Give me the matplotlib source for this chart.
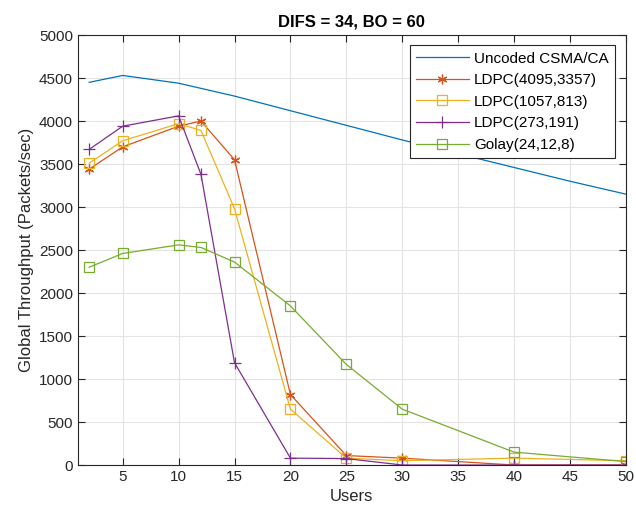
import matplotlib
matplotlib.use("Agg")
import matplotlib.pyplot as plt

plt.rcParams['font.family'] = ['Liberation Sans', 'DejaVu Sans']

users = [2, 5, 10, 12, 15, 20, 25, 30, 40, 50]
uncoded_x = [2, 5, 10, 15, 20, 25, 30, 35, 40, 45, 50]
uncoded = [4450, 4530, 4440, 4290, 4120, 3950, 3780, 3620, 3460, 3300, 3150]
ldpc_4095 = [3440, 3700, 3940, 4000, 3550, 820, 110, 80, 0, 0]
ldpc_1057 = [3510, 3770, 3970, 3890, 2980, 650, 80, 50, 80, 50]
ldpc_273 = [3670, 3940, 4060, 3380, 1190, 80, 75, 0, 0, 0]
golay = [2300, 2460, 2560, 2530, 2360, 1850, 1170, 650, 150, 40]

xticks = [5, 10, 15, 20, 25, 30, 35, 40, 45, 50]
yticks = list(range(0, 5001, 500))

fig = plt.figure(figsize=(6.36, 5.16), dpi=100)
ax = fig.add_axes([0.1226, 0.0988, 0.8614, 0.8333])

lw = 0.9
ax.plot(uncoded_x, uncoded, color='#0072BD', lw=lw, label='Uncoded CSMA/CA')
ax.plot(users, ldpc_4095, color='#D95319', lw=lw, marker=(6, 2, 0), ms=7, mew=0.9, label='LDPC(4095,3357)')
ax.plot(users, ldpc_1057, color='#EDB120', lw=lw, marker='s', ms=6.5, mfc='none', mew=0.9, label='LDPC(1057,813)')
ax.plot(users, ldpc_273, color='#7E2F8E', lw=lw, marker='+', ms=9, mew=0.9, label='LDPC(273,191)')
ax.plot(users, golay, color='#77AC30', lw=lw, marker='s', ms=6.5, mfc='none', mew=0.9, label='Golay(24,12,8)')

ax.set_xlim(1, 50)
ax.set_ylim(0, 5000)
ax.set_xticks(xticks)
ax.set_yticks(yticks)
ax.tick_params(direction='in', top=True, right=True, labelsize=11, length=5, width=0.8, colors='#262626')
ax.grid(True, color='#e3e3e3', lw=0.8)
ax.set_axisbelow(True)
for s in ax.spines.values():
    s.set_color('#262626')
    s.set_linewidth(0.8)

ax.set_xlabel('Users', fontsize=12, color='#262626')
ax.set_ylabel('Global Throughput (Packets/sec)', fontsize=12, color='#262626')
ax.set_title('DIFS = 34, BO = 60', fontsize=12, fontweight='bold', color='black')

leg = ax.legend(loc='upper right', bbox_to_anchor=(0.985, 0.983), fontsize=11, fancybox=False,
                edgecolor='#262626', framealpha=1, borderpad=0.4, handlelength=3.5, labelspacing=0.5,
                handletextpad=0.3, borderaxespad=0.2)
leg.get_frame().set_linewidth(0.8)

fig.savefig('out.png', dpi=100)
